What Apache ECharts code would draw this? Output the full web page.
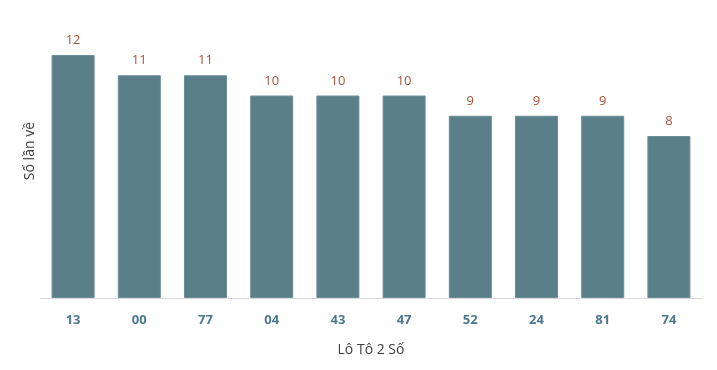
<!DOCTYPE html>
<html><head><meta charset="utf-8">
<script src="https://cdn.jsdelivr.net/npm/echarts@6/dist/echarts.min.js"></script>
<style>html,body{margin:0;padding:0;background:#fff}#c{width:717px;height:370px}</style>
</head><body><div id="c"></div>
<script>
const categories = ['13','00','77','04','43','47','52','24','81','74'];
const values = [12,11,11,10,10,10,9,9,9,8];
const xTitle = 'Lô Tô 2 Số';
const yTitle = 'Số lần về';
const chart = echarts.init(document.getElementById('c'));
chart.setOption({
  animation:false,
  textStyle:{fontFamily:'Open Sans'},
  grid:{left:40,right:15,top:55,bottom:72},
  xAxis:{type:'category',data:categories,
    name:xTitle,nameLocation:'middle',nameGap:45,
    nameTextStyle:{color:'#404040',fontSize:14,fontFamily:'Open Sans'},
    axisLine:{lineStyle:{color:'#d9d9d9',width:1}},
    axisTick:{show:false},
    axisLabel:{color:'#4b7a8a',fontWeight:'bold',fontSize:13,margin:16,fontFamily:'Open Sans'}},
  yAxis:{type:'value',min:0,max:12,show:false},
  graphic:[{type:'text',left:23,top:122,rotation:Math.PI/2,
    style:{text:yTitle,fill:'#404040',font:'14px "Open Sans"'}}],
  series:[{type:'bar',data:values,barWidth:'65%',
    itemStyle:{color:'#5a7f89',borderColor:'#6b8f99',borderWidth:1},
    label:{show:true,position:'top',distance:8,color:'#a9533a',fontSize:13,fontFamily:'Open Sans'}}]
});
</script></body></html>
